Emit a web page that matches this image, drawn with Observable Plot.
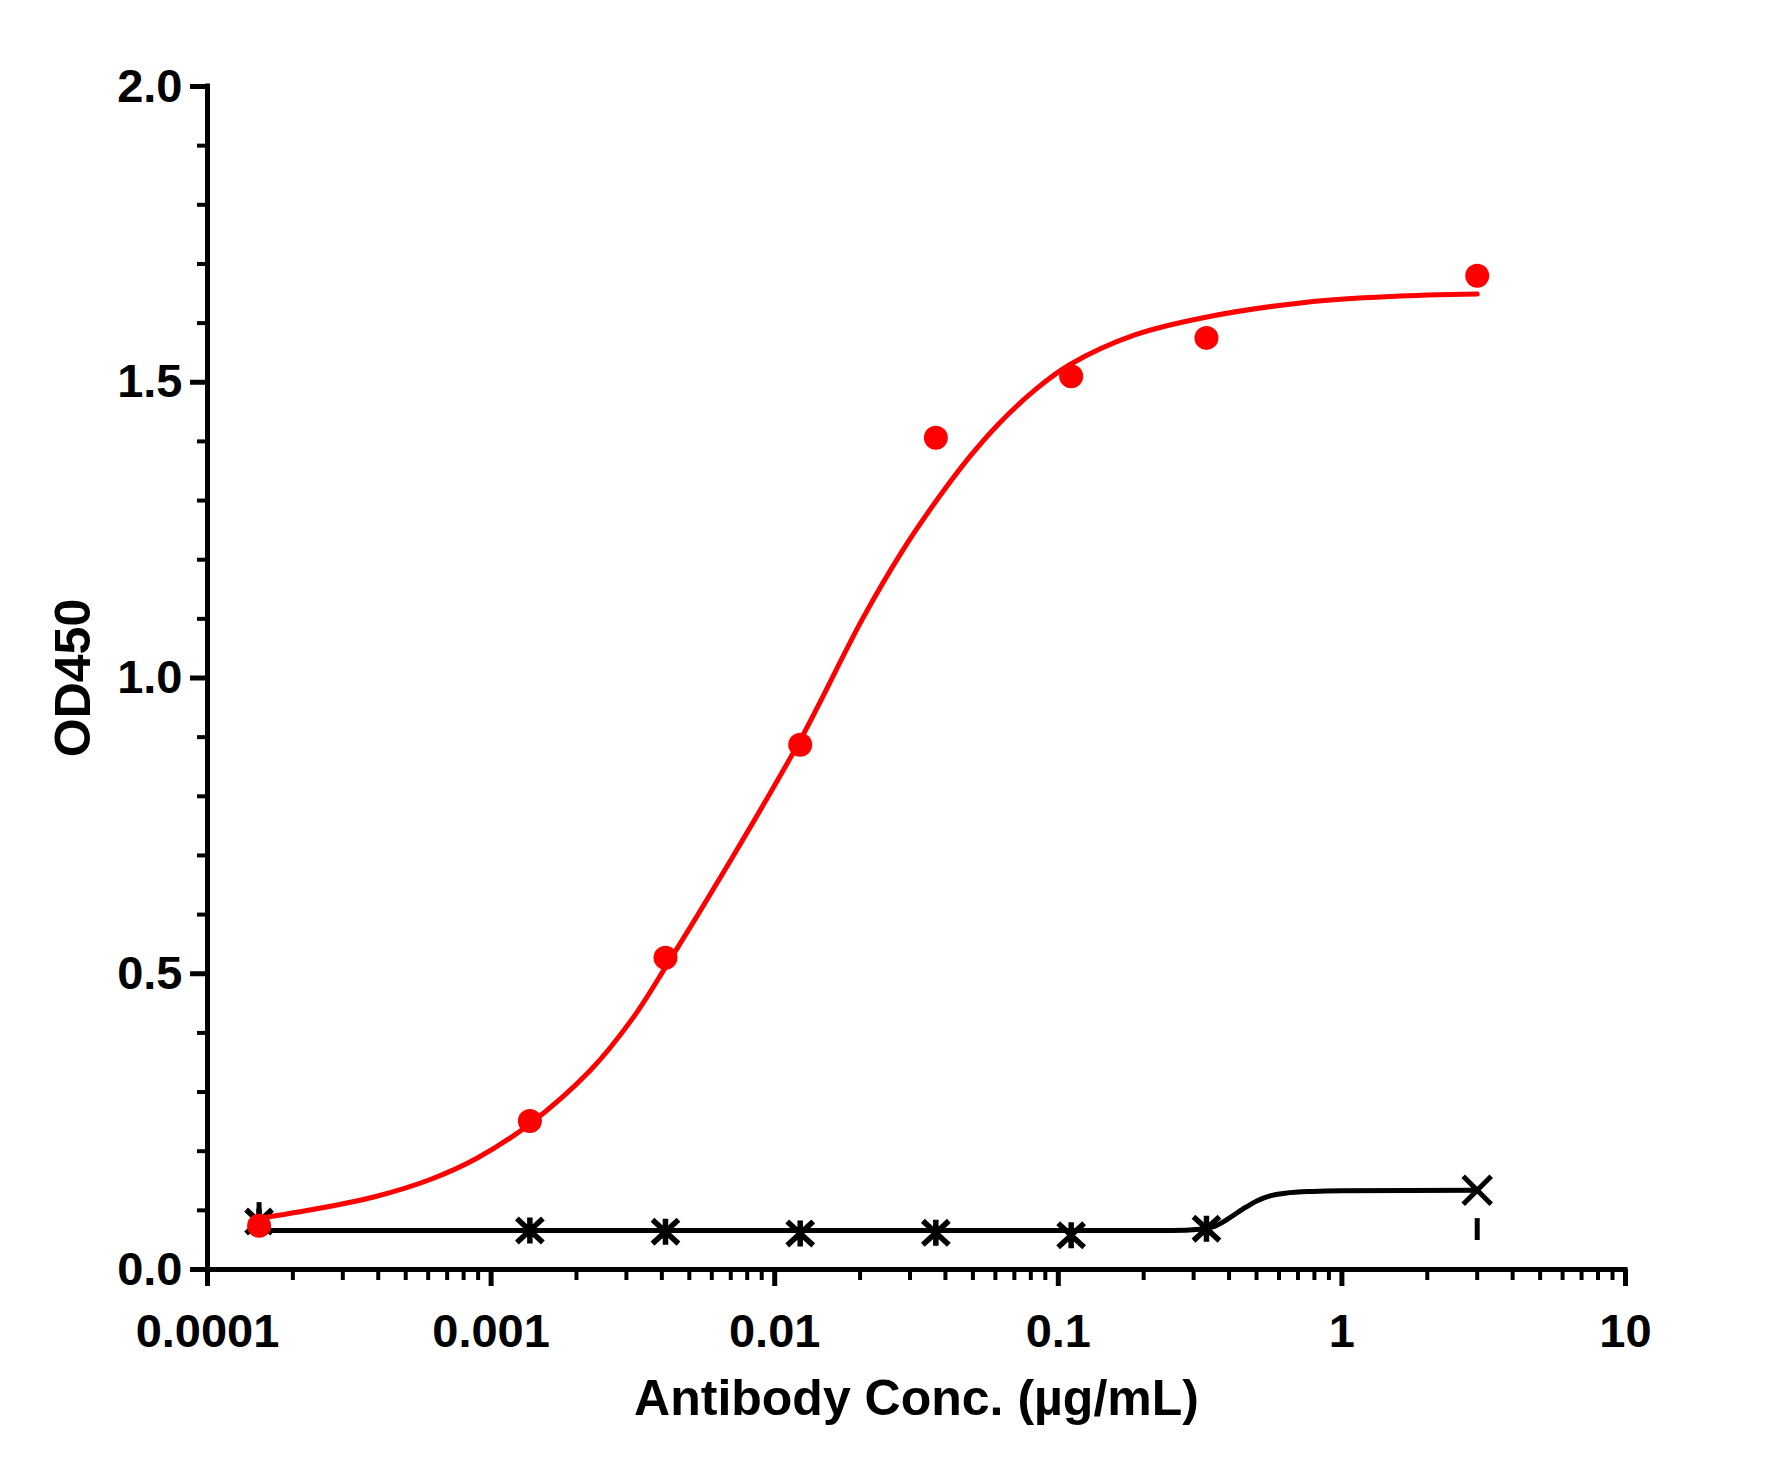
<!DOCTYPE html>
<html>
<head>
<meta charset="utf-8">
<script src="https://cdn.jsdelivr.net/npm/d3@7"></script>
<script src="https://cdn.jsdelivr.net/npm/@observablehq/plot@0.6"></script>
<style>
  html, body { margin: 0; padding: 0; background: #fff; }
  #chart svg { display: block; }
</style>
</head>
<body>
<div id="chart"></div>
<script>
// ---- data ----
const targetConc = [0.000152, 0.00137, 0.00412, 0.0123, 0.037, 0.111, 0.333, 3];
const targetOD   = [0.074, 0.251, 0.527, 0.887, 1.406, 1.510, 1.575, 1.680];

const controlConc = [0.000152, 0.00137, 0.00412, 0.0123, 0.037, 0.111, 0.333, 3];
const controlOD   = [0.081, 0.066, 0.064, 0.061, 0.062, 0.058, 0.069, 0.134];

const errConc = [0.000152, 3];
const errLow  = [0.081, 0.049];
const errHigh = [0.113, 0.086];

// fitted curves
const targetFitConc = [0.000151, 0.000245, 0.000389, 0.000617, 0.000891, 0.00135, 0.00224, 0.00316, 0.00417, 0.00676, 0.0123, 0.0204, 0.0282, 0.0372, 0.0489, 0.0617, 0.0832, 0.110, 0.186, 0.331, 0.741, 1.5, 3.0];
const targetFitOD   = [0.086, 0.103, 0.123, 0.153, 0.188, 0.244, 0.337, 0.425, 0.515, 0.680, 0.895, 1.100, 1.215, 1.300, 1.375, 1.430, 1.488, 1.530, 1.580, 1.610, 1.635, 1.645, 1.649];

const controlFitConc = [0.000152, 0.01, 0.1, 0.25, 0.316, 0.355, 0.398, 0.447, 0.501, 0.562, 0.631, 0.794, 1.0, 3.0];
const controlFitOD   = [0.066, 0.066, 0.066, 0.066, 0.068, 0.073, 0.086, 0.102, 0.116, 0.125, 0.129, 0.132, 0.133, 0.134];

const xMajorTicks = [0.0001, 0.001, 0.01, 0.1, 1, 10];
const xTickLabels = ["0.0001", "0.001", "0.01", "0.1", "1", "10"];
const yMajorTicks = [0, 0.5, 1, 1.5, 2];
const yTickLabels = ["0.0", "0.5", "1.0", "1.5", "2.0"];
const yMinorTicks = [0.1, 0.2, 0.3, 0.4, 0.6, 0.7, 0.8, 0.9, 1.1, 1.2, 1.3, 1.4, 1.6, 1.7, 1.8, 1.9];
const xTitle = "Antibody Conc. (µg/mL)";
const yTitle = "OD450";

// ---- tables ----
const target = targetConc.map((x, i) => ({x, y: targetOD[i]}));
const control = controlConc.map((x, i) => ({x, y: controlOD[i], last: i === controlConc.length - 1}));
const errors = errConc.map((x, i) => ({x, y1: errLow[i], y2: errHigh[i]}));
const targetFit = targetFitConc.map((x, i) => ({x, y: targetFitOD[i]}));
const controlFit = controlFitConc.map((x, i) => ({x, y: controlFitOD[i]}));
const xMinorTicks = d3.range(-4, 1).flatMap(e => d3.range(2, 10).map(m => m * Math.pow(10, e)));

// custom symbols: asterisk (X + vertical) and X
const starSymbol = {
  draw(ctx, size) {
    const r = Math.sqrt(size / Math.PI);
    ctx.moveTo(-r, -r * 0.92); ctx.lineTo(r, r * 0.92);
    ctx.moveTo(-r, r * 0.92); ctx.lineTo(r, -r * 0.92);
    ctx.moveTo(0, -r); ctx.lineTo(0, r);
  }
};
const crossSymbol = {
  draw(ctx, size) {
    const r = Math.sqrt(size / Math.PI);
    ctx.moveTo(-r, -r); ctx.lineTo(r, r);
    ctx.moveTo(-r, r); ctx.lineTo(r, -r);
  }
};

const RED = "#ff0000";
const FONT = "'Liberation Sans', Arial, Helvetica, sans-serif";

const chart = Plot.plot({
  width: 1775,
  height: 1467,
  marginLeft: 207,
  marginRight: 150,
  marginTop: 86,
  marginBottom: 198,
  style: {fontFamily: FONT, color: "black", background: "white", overflow: "visible"},
  x: {type: "log", domain: [1e-4, 10], label: null},
  y: {domain: [0, 2], label: null},
  marks: [
    // axes
    Plot.axisX(xMinorTicks, {tickSize: 11, strokeWidth: 4, tickFormat: () => "", label: null}),
    Plot.axisX(xMajorTicks, {tickSize: 17, strokeWidth: 5, tickPadding: 27,
      tickFormat: d => xTickLabels[xMajorTicks.indexOf(d)],
      fontSize: 47, fontWeight: "bold", label: null}),
    Plot.axisY(yMinorTicks, {tickSize: 10, strokeWidth: 4, tickFormat: () => "", label: null}),
    Plot.axisY(yMajorTicks, {tickSize: 17, strokeWidth: 5, tickPadding: 8,
      tickFormat: d => yTickLabels[yMajorTicks.indexOf(d)],
      fontSize: 47, fontWeight: "bold", label: null}),
    Plot.ruleY([0], {x1: 1e-4, x2: 10, strokeWidth: 5, strokeLinecap: "square"}),
    Plot.ruleX([1e-4], {y1: 0, y2: 2, strokeWidth: 5, strokeLinecap: "square"}),
    // control series
    Plot.line(controlFit, {x: "x", y: "y", stroke: "black", strokeWidth: 5, curve: "monotone-x"}),
    Plot.ruleX(errors, {x: "x", y1: "y1", y2: "y2", stroke: "black", strokeWidth: 5}),
    Plot.dot(control, {filter: d => !d.last, x: "x", y: "y", r: 13, symbol: starSymbol,
      stroke: "black", strokeWidth: 5.5, fill: "none"}),
    Plot.dot(control, {filter: d => d.last, x: "x", y: "y", r: 14, symbol: crossSymbol,
      stroke: "black", strokeWidth: 5, fill: "none"}),
    // target series
    Plot.line(targetFit, {x: "x", y: "y", stroke: RED, strokeWidth: 5, curve: "catmull-rom"}),
    Plot.dot(target, {x: "x", y: "y", r: 12, fill: RED, stroke: "none"}),
    // axis titles
    Plot.text([xTitle], {text: d => d, frameAnchor: "bottom", dy: 110, lineAnchor: "top",
      fontSize: 50, fontWeight: "bold", fill: "black"}),
    Plot.text([yTitle], {text: d => d, frameAnchor: "left", dx: -153, rotate: -90,
      textAnchor: "middle", lineAnchor: "top",
      fontSize: 50, fontWeight: "bold", fill: "black"})
  ]
});
document.getElementById("chart").appendChild(chart);
</script>
</body>
</html>
